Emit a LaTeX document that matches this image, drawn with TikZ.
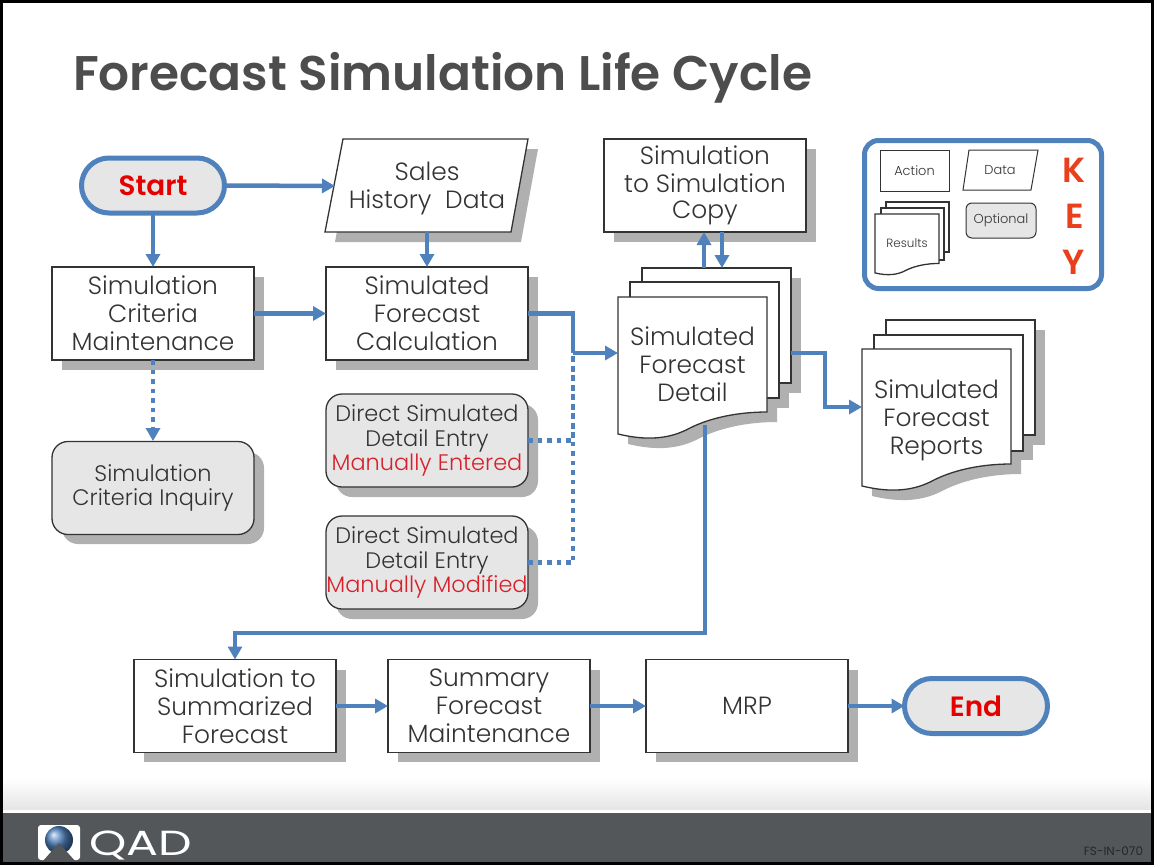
\documentclass[tikz,border=0pt]{standalone}
\usepackage{graphicx}
\usepackage{fontspec}
\setmainfont{Poppins}[UprightFont=* Light,BoldFont=* SemiBold]
\newfontfamily\regfont{Poppins}
\usetikzlibrary{arrows.meta,shapes.misc,positioning}
\definecolor{flow}{HTML}{4F81BD}
\definecolor{shadowgray}{HTML}{B0B0B0}
\definecolor{optfill}{HTML}{E6E6E6}
\definecolor{edgec}{HTML}{333333}
\definecolor{txt}{HTML}{333333}
\definecolor{redtxt}{HTML}{D8202A}
\definecolor{keyred}{HTML}{E8401C}
\definecolor{foot}{HTML}{53575A}
\definecolor{titlec}{HTML}{4D4D4D}
\newcommand{\shadowbox}[4]{\fill[shadowgray] (#1+10,#2+10) rectangle (#3+10,#4+10);}
\newcommand{\mypage}[5]{% x y w hscale style
  \path[#5] (#1,#2) -- (#1+#3,#2) -- (#1+#3,#2+115*#4)
   .. controls (#1+#3-0.181*#3,#2+115*#4) and (#1+#3-0.369*#3,#2+120*#4) .. (#1+#3-0.517*#3,#2+131*#4)
   .. controls (#1+#3-0.651*#3,#2+142*#4) and (#1+#3-0.805*#3,#2+144*#4) .. (#1,#2+137*#4) -- cycle;}
\tikzset{
  x=1bp,y=-1bp,
  every node/.style={font=\fontsize{25}{28}\selectfont,text=txt,align=center,inner sep=0pt,outer sep=0pt},
  actionbox/.style={draw=edgec,line width=1.3bp,fill=white,minimum width=202bp,minimum height=93bp},
  optbox/.style={draw=edgec,line width=1.3bp,fill=optfill,rounded corners=16bp,minimum width=202bp,minimum height=93bp},
  smalltext/.style={font=\fontsize{22.5}{24.5}\selectfont},
  terminal/.style={draw=flow,line width=5bp,fill=optfill,rounded rectangle,minimum width=143bp,minimum height=55bp,font=\fontsize{28}{30}\bfseries\selectfont,text=red!90!black},
  ghost/.style={draw=none,fill=none},
  flowline/.style={draw=flow,line width=4.5bp,-{Triangle[length=13bp,width=14bp]}},
  plainflow/.style={draw=flow,line width=4.5bp},
  dotflow/.style={draw=flow,line width=4.5bp,dash pattern=on 4.5bp off 5bp},
  pagestyle/.style={draw=edgec,line width=1.3bp,fill=white},
  pageshade/.style={fill=shadowgray},
  keytext/.style={font=\fontsize{13}{14}\selectfont},
  keyletter/.style={font=\fontsize{35}{35}\bfseries\selectfont,text=keyred},
}
\begin{document}
\begin{tikzpicture}
\useasboundingbox (0,0) rectangle (1154,865);
\fill[white] (0,0) rectangle (1154,865);
% footer
\shade[top color=white,bottom color=black!10] (3,778) rectangle (1151,809);
\fill[foot] (3,813) rectangle (1151,863);
% title
\node[anchor=base west,font=\fontsize{48.8}{50}\bfseries\selectfont,text=titlec] (title) at (73,90) {Forecast Simulation Life Cycle};
% shadows of plain boxes
\shadowbox{52}{267}{254}{360}
\shadowbox{326}{267}{528}{360}
\shadowbox{604}{139}{806}{232}
\shadowbox{134}{660}{336}{752}
\shadowbox{388}{660}{590}{752}
\shadowbox{646}{660}{848}{752}
\fill[shadowgray,rounded corners=16bp] (62,452) rectangle (264,544);
\fill[shadowgray,rounded corners=16bp] (336,404) rectangle (538,497);
\fill[shadowgray,rounded corners=16bp] (336,526) rectangle (538,619);
\fill[shadowgray] (352,149) -- (538,149) -- (521,242) -- (335,242) -- cycle;
% key panel
\node[draw=flow,line width=5bp,rounded corners=14bp,minimum width=237bp,minimum height=148bp,fill=white] (key) at (983,214.5) {};
\node[draw=edgec,line width=1bp,fill=white,minimum width=69bp,minimum height=41bp,keytext] (kaction) at (914.5,170.5) {Action};
\draw[draw=edgec,line width=1bp,fill=white] (969,150) -- (1038,150) -- (1031,190) -- (963,190) -- cycle;
\node[keytext] (kdata) at (1000,170) {Data};
\node[draw=edgec,line width=1bp,fill=optfill,rounded corners=6bp,minimum width=70bp,minimum height=35bp,keytext] (kopt) at (1001,220.5) {Optional};
\draw[pagestyle] (886,202) rectangle (949,252);
\draw[pagestyle] (881,208) rectangle (944,260);
\mypage{875}{214}{64}{0.43}{pagestyle}
\node[keytext,font=\fontsize{12}{13}\selectfont] (kresults) at (907,243) {Results};
\node[keyletter] (kk) at (1074,170) {K};
\node[keyletter] (ke) at (1075,216) {E};
\node[keyletter] (ky) at (1074,262) {Y};
% detail stack
\fill[pageshade] (652,278) rectangle (801,393);
\fill[pageshade] (640,292) rectangle (789,408);
\mypage{628}{307}{149}{1}{pageshade}
\draw[pagestyle] (642,268) rectangle (791,383);
\draw[pagestyle] (630,282) rectangle (779,398);
\mypage{618}{297}{149}{1}{pagestyle}
\node[minimum width=149bp,minimum height=115bp,ghost] (detail) at (692.5,364) {Simulated\\Forecast\\Detail};
% reports stack
\fill[pageshade] (896,330) rectangle (1045,445);
\fill[pageshade] (884,345) rectangle (1033,460);
\mypage{872}{359}{149}{1}{pageshade}
\draw[pagestyle] (886,320) rectangle (1035,435);
\draw[pagestyle] (874,335) rectangle (1023,451);
\mypage{862}{349}{149}{1}{pagestyle}
\node[minimum width=149bp,minimum height=115bp,ghost] (reports) at (936.5,420) {Simulated\\Forecast\\Reports};
% connector end points
\coordinate (salesin) at (335,186);
\coordinate (merge) at (573,353);
\coordinate (detailin) at (618,353);
\coordinate (detailup) at (704,268);
\coordinate (copyup) at (704,232);
\coordinate (copydown) at (722,232);
\coordinate (detaildown) at (722,268);
\coordinate (detailout) at (705,425);
\coordinate (stackout) at (791,353);
\coordinate (reportsin) at (862,407);
\coordinate (inqin) at (153,441);
% boxes
\node[terminal] (start) at (153,185.5) {Start};
\node[terminal] (end) at (976,706) {End};
\draw[draw=edgec,line width=1.3bp,fill=white] (343,139) -- (528,139) -- (511,232) -- (325,232) -- cycle;
\node[ghost,minimum width=202bp,minimum height=93bp] (sales) at (427,188.5) {Sales\\History\ \ Data};
\node[actionbox] (crit) at (153,313.5) {Simulation\\Criteria\\Maintenance};
\node[actionbox] (calc) at (427,313.5) {Simulated\\Forecast\\Calculation};
\node[actionbox] (copy) at (705,185.5) {\raisebox{-1.5bp}{Simulation}\\\raisebox{-1.5bp}{to Simulation}\\Copy};
\node[optbox,smalltext] (inq) at (153,488) {Simulation\\Criteria Inquiry};
\node[optbox,smalltext] (d1) at (427,440.5) {Direct Simulated\\Detail Entry\\\textcolor{redtxt}{Manually Entered}};
\node[optbox,smalltext] (d2) at (427,562.5) {Direct Simulated\\Detail Entry\\\textcolor{redtxt}{Manually Modified}};
\node[actionbox] (s2s) at (235,706) {Simulation to\\Summarized\\Forecast};
\node[actionbox] (sum) at (489,706) {Summary\\Forecast\\Maintenance};
\node[actionbox] (mrp) at (747,706) {MRP};
% connectors
\draw[flowline] (start.east) -- (salesin);
\draw[flowline] (start.south) -- (crit.north);
\draw[flowline] (sales.south |- copyup) -- (calc.north);
\draw[flowline] (crit.east) -- (calc.west);
\draw[dotflow] (d1.east) -| (merge);
\draw[dotflow] (d2.east) -| (merge);
\draw[plainflow] (calc.east) -| (merge);
\draw[flowline] (merge) -- (detailin);
\draw[flowline] (detailup) -- (copyup);
\draw[flowline] (copydown) -- (detaildown);
\draw[flowline,dash pattern=on 4.5bp off 5bp] (crit.south) -- (inqin);
\draw[flowline] (stackout) -- (825,353) -- (825,407) -- (reportsin);
\draw[flowline] (detailout) -- (705,633) -- (235,633) -- (s2s.north);
\draw[flowline] (s2s.east) -- (sum.west);
\draw[flowline] (sum.east) -- (mrp.west);
\draw[flowline] (mrp.east) -- (end.west);
% logo
\fill[white,rounded corners=3bp] (38,825) rectangle (80,860);
\shade[ball color=flow] (59,840) circle (14bp);
\fill[foot] (42,862) -- (59,843) -- (76,862) -- cycle;
\node[anchor=base west,font=\regfont\fontsize{35}{36}\selectfont,text=white] (qad) at (89,855) {\scalebox{1.36}[1]{QAD}};
\node[anchor=base east,font=\regfont\fontsize{12}{13}\selectfont,text=black!85] (code) at (1143,855) {FS-IN-070};
% border
\draw[black,line width=3.5bp] (1.5,1.5) rectangle (1152.5,863.5);
\end{tikzpicture}
\end{document}
